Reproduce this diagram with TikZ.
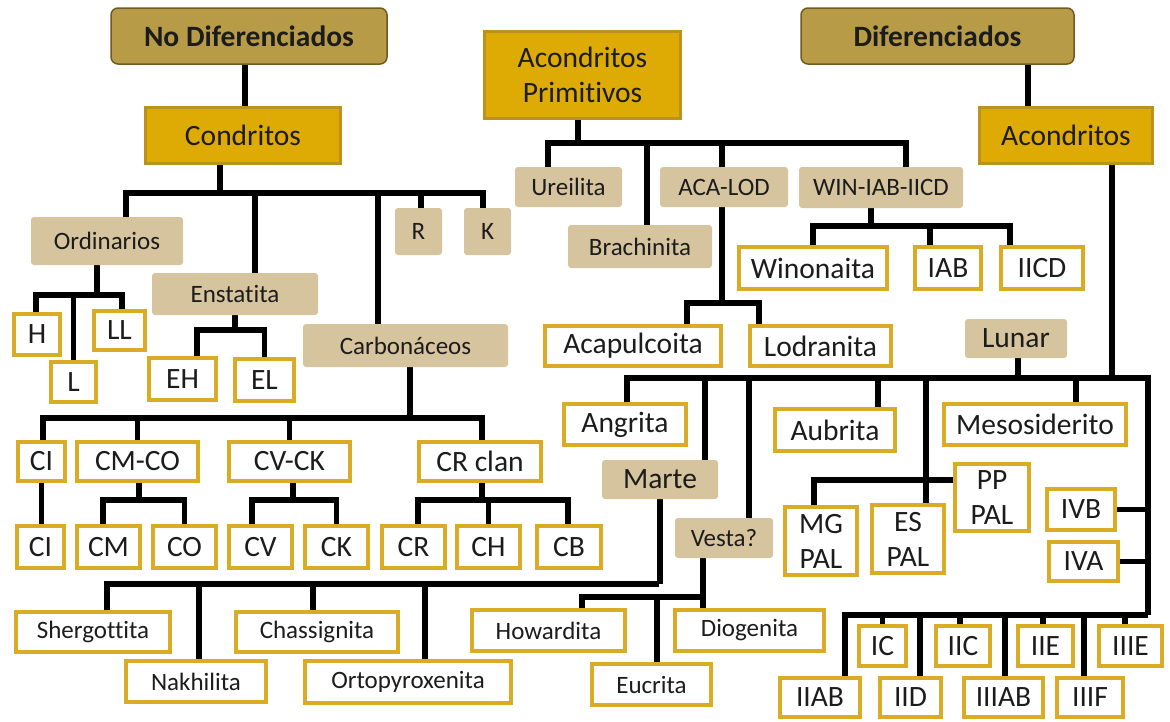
\documentclass[tikz,border=0pt]{standalone}
\usepackage{fontspec}
\setmainfont{Carlito}[Ligatures={NoCommon,NoContextual,NoRequired}, Contextuals={NoAlternate}]
\usepackage{xcolor}
\usepackage{tikz}
\usetikzlibrary{positioning, calc, backgrounds}
\definecolor{hdrc}{RGB}{183,155,70}
\definecolor{hdrd}{RGB}{112,90,34}
\definecolor{yelc}{RGB}{221,171,4}
\definecolor{yeld}{RGB}{188,146,28}
\definecolor{tanc}{RGB}{214,196,158}
\definecolor{goldc}{RGB}{218,171,36}
\definecolor{txtc}{RGB}{28,28,28}
\tikzset{sz/.style n args={2}{minimum width=#1pt, minimum height=#2pt}}

\begin{document}
\begin{tikzpicture}[x=1pt,y=-1pt,
  fbig/.style={font=\fontsize{29.5}{35}\selectfont},
  fsmall/.style={font=\fontsize{25}{30}\selectfont},
  hbox/.style={draw=hdrd, fill=hdrc, line width=1.5pt, rounded corners=7pt, inner sep=0pt,
    text=txtc, font=\fontsize{29.5}{35}\selectfont\bfseries},
  ybox/.style={draw=yeld, fill=yelc, line width=3pt, inner sep=0pt, text=txtc, align=center, fbig},
  tbox/.style={fill=tanc, rounded corners=3pt, inner sep=0pt, text=txtc, fsmall},
  wbox/.style={draw=goldc, fill=white, line width=4pt, inner sep=0pt, text=txtc, align=center, fbig},
  link/.style={draw=black, line width=5.5pt},
]
\useasboundingbox (0,0) rectangle (1170,721);
% ---------- top level ----------
\node[hbox, sz={276}{56}] (NoDif) at (249,36) {No Diferenciados};
\node[hbox, sz={273}{56}] (Dif) at (937.5,36) {Diferenciados};
\node[ybox, sz={196}{87}] (AcPrim) at (582.5,75) {Acondritos\\Primitivos};
\node[ybox, sz={195}{56}] (Cond) at (243,135.5) {Condritos};
\node[ybox, sz={173}{56}] (Acond) at (1066,135.5) {Acondritos};
% ---------- condritos ----------
\node[tbox, sz={152}{48}] (Ord) at (107,241) {Ordinarios};
\node[tbox, sz={166}{42}] (Enst) at (235,294) {Enstatita};
\node[tbox, sz={205}{43}] (Carb) at (405.5,345.5) {Carbonáceos};
\node[tbox, sz={47}{47}] (R) at (418.5,231.5) {R};
\node[tbox, sz={47}{47}] (K) at (487.5,231.5) {K};
\node[wbox, sz={46}{41}] (H) at (37,334.5) {H};
\node[wbox, sz={45}{40}] (L) at (73.5,382) {L};
\node[wbox, sz={51}{39}] (LL) at (119.5,330.5) {LL};
\node[wbox, sz={67}{42}] (EH) at (182.5,379) {EH};
\node[wbox, sz={59}{42}] (EL) at (264.5,380) {EL};
\node[wbox, sz={47}{39}] (CIa) at (41.5,461.5) {CI};
\node[wbox, sz={121}{39}] (CMCO) at (137.5,461.5) {CM-CO};
\node[wbox, sz={121}{39}] (CVCK) at (289.5,461.5) {CV-CK};
\node[wbox, sz={122}{39}] (CRclan) at (480,461.5) {CR clan};
\node[wbox, sz={47}{42}] (CIb) at (40.5,547) {CI};
\node[wbox, sz={63}{42}] (CM) at (108.5,547) {CM};
\node[wbox, sz={63}{42}] (CO) at (184.5,547) {CO};
\node[wbox, sz={63}{42}] (CV) at (260.5,547) {CV};
\node[wbox, sz={63}{42}] (CK) at (336.5,547) {CK};
\node[wbox, sz={63}{42}] (CR) at (413.5,547) {CR};
\node[wbox, sz={63}{42}] (CH) at (488.5,547) {CH};
\node[wbox, sz={64}{42}] (CB) at (569,547) {CB};
% ---------- acondritos primitivos ----------
\node[tbox, sz={107}{40}] (Ureil) at (568.5,187) {Ureilita};
\node[tbox, sz={144}{43}] (Brach) at (640,246.5) {Brachinita};
\node[tbox, sz={128}{40}] (ACALOD) at (724,187) {ACA-LOD};
\node[tbox, sz={164}{41}] (WIN) at (881,187.5) {WIN-IAB-IICD};
\node[wbox, sz={176}{40}] (Acap) at (633,346) {Acapulcoita};
\node[wbox, sz={141}{40}] (Lodr) at (820.5,346) {Lodranita};
\node[wbox, sz={148}{42}] (Wino) at (813,268) {Winonaita};
\node[wbox, sz={66}{42}] (IAB) at (948,268) {IAB};
\node[wbox, sz={82}{42}] (IICD) at (1042,268) {IICD};
% ---------- acondritos ----------
\node[tbox, fbig, sz={102}{39}] (Lunar) at (1016,338.5) {Lunar};
\node[tbox, fbig, sz={116}{39}] (Marte) at (660,479.5) {Marte};
\node[tbox, sz={98}{40}] (Vesta) at (724,538) {Vesta?};
\node[wbox, sz={122}{41}] (Angr) at (625,424.5) {Angrita};
\node[wbox, sz={120}{42}] (Aubr) at (835,430) {Aubrita};
\node[wbox, sz={182}{41}] (Meso) at (1035,424.5) {Mesosiderito};
\node[wbox, sz={72}{68}] (MGPAL) at (821,541) {MG\\PAL};
\node[wbox, sz={72}{68}] (ESPAL) at (908,539) {ES\\PAL};
\node[wbox, sz={74}{67}] (PPPAL) at (992,497.5) {PP\\PAL};
\node[wbox, sz={68}{41}] (IVB) at (1081,509.5) {IVB};
\node[wbox, sz={69}{39}] (IVA) at (1083.5,561.5) {IVA};
% hierros
\node[wbox, sz={47}{40}] (IC) at (882.5,646) {IC};
\node[wbox, sz={54}{40}] (IIC) at (963,646) {IIC};
\node[wbox, sz={55}{40}] (IIE) at (1045.5,646) {IIE};
\node[wbox, sz={63}{40}] (IIIE) at (1130.5,646) {IIIE};
\node[wbox, sz={80}{39}] (IIAB) at (820,697.5) {IIAB};
\node[wbox, sz={61}{39}] (IID) at (910.5,697.5) {IID};
\node[wbox, sz={79}{39}] (IIIAB) at (1003.5,697.5) {IIIAB};
\node[wbox, sz={66}{39}] (IIIF) at (1090,697.5) {IIIF};
% Marte y Vesta
\node[wbox, fsmall, sz={154}{40}] (Sherg) at (93,632) {Shergottita};
\node[wbox, fsmall, sz={140}{41}] (Nakh) at (196,681.5) {Nakhilita};
\node[wbox, fsmall, sz={162}{40}] (Chass) at (317,632) {Chassignita};
\node[wbox, fsmall, sz={206}{42}] (Orto) at (408,682) {Ortopyroxenita};
\node[wbox, fsmall, sz={153}{41}] (Howa) at (548.5,630.5) {Howardita};
\node[wbox, fsmall, sz={119}{41}] (Eucr) at (651.5,684.5) {Eucrita};
\node[wbox, fsmall, sz={149}{41}] (Diog) at (749.5,630.5) {Diogenita};
% ---------- bus points ----------
\coordinate (bCond) at (220,193);
\coordinate (bOrd)  at (97,295);
\coordinate (bEnst) at (235,330);
\coordinate (bCarb) at (410,418);
\coordinate (bCMCO) at (139,500);
\coordinate (bCVCK) at (293,500);
\coordinate (bCR)   at (482,500);
\coordinate (bPrim) at (578,143);
\coordinate (bALOD) at (722,303);
\coordinate (bWIN)  at (871,226);
\coordinate (bAc)   at (1112,378);
\coordinate (bFe)   at (1148,615);
\coordinate (bMar)  at (659,584);
\coordinate (bVes)  at (703,597);
% ---------- links ----------
\begin{scope}[on background layer]
\draw[link] ([xshift=-4pt]NoDif.south) -- ([xshift=2pt]Cond.north);
\draw[link] ([xshift=90.5pt]Dif.south) -- ([xshift=-38pt]Acond.north);
% condritos
\draw[link] ([xshift=-23pt]Cond.south) -- (bCond);
\draw[link] (bCond) -| ([xshift=19pt]Ord.north);
\draw[link] (bCond) -| ([xshift=20pt]Enst.north);
\draw[link] (bCond) -| ([xshift=-27.5pt]Carb.north);
\draw[link] (bCond) -| ([xshift=2.5pt]R.north);
\draw[link] (bCond) -| ([xshift=-4.5pt]K.north);
\draw[link] ([xshift=-10pt]Ord.south) -- (bOrd);
\draw[link] (bOrd) -| ([xshift=-1pt]H.north);
\draw[link] (bOrd) -| (L.north);
\draw[link] (bOrd) -| ([xshift=2.5pt]LL.north);
\draw[link] (Enst.south) -- (bEnst);
\draw[link] (bEnst) -| ([xshift=14.5pt]EH.north);
\draw[link] (bEnst) -| (EL.north);
\draw[link] ([xshift=4.5pt]Carb.south) -- (bCarb);
\draw[link] (bCarb) -| ([xshift=1.5pt]CIa.north);
\draw[link] (bCarb) -| (CMCO.north);
\draw[link] (bCarb) -| (CVCK.north);
\draw[link] (bCarb) -| ([xshift=2pt]CRclan.north);
\draw[link] (CIa.south) -- (CIa.south |- CIb.north);
\draw[link] ([xshift=1.5pt]CMCO.south) -- (bCMCO);
\draw[link] (bCMCO) -| ([xshift=-5.5pt]CM.north);
\draw[link] (bCMCO) -| (CO.north);
\draw[link] ([xshift=3.5pt]CVCK.south) -- (bCVCK);
\draw[link] (bCVCK) -| ([xshift=-8.5pt]CV.north);
\draw[link] (bCVCK) -| (CK.north);
\draw[link] ([xshift=2pt]CRclan.south) -- (bCR);
\draw[link] (bCR) -| ([xshift=4.5pt]CR.north);
\draw[link] (bCR) -| (CH.north);
\draw[link] (bCR) -| ([xshift=-1pt]CB.north);
% acondritos primitivos
\draw[link] ([xshift=-4.5pt]AcPrim.south) -- (bPrim);
\draw[link] (bPrim) -| ([xshift=-20.5pt]Ureil.north);
\draw[link] (bPrim) -| ([xshift=7pt]Brach.north);
\draw[link] (bPrim) -| ([xshift=-2pt]ACALOD.north);
\draw[link] (bPrim) -| ([xshift=25pt]WIN.north);
\draw[link] ([xshift=-2pt]ACALOD.south) -- (bALOD);
\draw[link] (bALOD) -| ([xshift=54pt]Acap.north);
\draw[link] (bALOD) -| ([xshift=-61.5pt]Lodr.north);
\draw[link] ([xshift=-10pt]WIN.south) -- (bWIN);
\draw[link] (bWIN) -| (Wino.north);
\draw[link] (bWIN) -| ([xshift=-18pt]IAB.north);
\draw[link] (bWIN) -| ([xshift=-32pt]IICD.north);
% acondritos
\draw[link] ([xshift=46pt]Acond.south) -- (bAc);
\draw[link] ([xshift=2pt]Lunar.south) -- ([xshift=2pt]Lunar.south |- bAc);
\draw[link] (bAc) -| ([xshift=2pt]Angr.north);
\draw[link] (bAc) -| ([xshift=45pt]Marte.north);
\draw[link] (bAc) -| ([xshift=25pt]Vesta.north);
\draw[link] (bAc) -| ([xshift=43pt]Aubr.north);
\draw[link] (bAc) -| ([xshift=18pt]ESPAL.north);
\draw[link] (bAc) -| ([xshift=41pt]Meso.north);
\draw[link] ([yshift=17.5pt]PPPAL.west) -| ([xshift=-7pt]MGPAL.north);
\draw[link] (bAc) -| (bFe);
\draw[link] (IVB.east) -- (IVB.east -| bFe);
\draw[link] (IVA.east) -- (IVA.east -| bFe);
\draw[link] (bFe) -| ([xshift=25pt]IIAB.north);
\draw[link] (bFe) -| (IC.north);
\draw[link] (bFe) -| ([xshift=9.5pt]IID.north);
\draw[link] (bFe) -| ([xshift=-3pt]IIC.north);
\draw[link] (bFe) -| ([xshift=1.5pt]IIIAB.north);
\draw[link] (bFe) -| ([xshift=-2.5pt]IIE.north);
\draw[link] (bFe) -| ([xshift=-6pt]IIIF.north);
\draw[link] (bFe) -| ([xshift=-5.5pt]IIIE.north);
% Marte y Vesta
\draw[link] (Marte.south) -- (Marte.south |- bMar);
\draw[link] (bMar) -| ([xshift=14pt]Sherg.north);
\draw[link] (bMar) -| ([xshift=3pt]Nakh.north);
\draw[link] (bMar) -| ([xshift=-4pt]Chass.north);
\draw[link] (bMar) -| ([xshift=17pt]Orto.north);
\draw[link] ([xshift=-21pt]Vesta.south) -- (bVes);
\draw[link] (bVes) -| ([xshift=33.5pt]Howa.north);
\draw[link] (bVes) -| ([xshift=5.5pt]Eucr.north);
\draw[link] (bVes) -| ([xshift=-46.5pt]Diog.north);
\end{scope}
\end{tikzpicture}
\end{document}
